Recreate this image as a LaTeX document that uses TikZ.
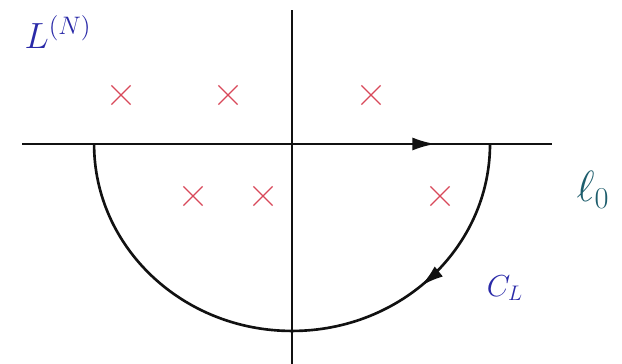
\documentclass[tikz,border=0pt]{standalone}
\usepackage{amsmath, amssymb}
\usetikzlibrary{positioning, calc, arrows.meta, shapes.misc, decorations.markings}
\definecolor{Ink}{HTML}{111111}
\definecolor{Pole}{HTML}{D8485A}
\definecolor{Label}{HTML}{2A2AA8}
\definecolor{Teal}{HTML}{1D5D6C}
\tikzset{
    axis/.style={line width=1.5pt, color=Ink},
    contour/.style={line width=1.5pt, color=Ink},
    midtip/.style={postaction={decorate}, decoration={markings,
        mark=at position #1 with {\arrow{Latex[length=4.6mm, width=2.6mm]}}}},
    crossmark/.style={cross out, draw=Pole, line width=0.7pt, minimum size=0.36cm, inner sep=0pt},
    lbl/.style={text=Label, font=\fontsize{20}{24}\selectfont},
}
\begin{document}
\begin{tikzpicture}[x=0.02cm, y=0.02cm]
    \useasboundingbox (0,0) rectangle (622,364);

    % Definizioni
    \coordinate (O) at (292,220);
    \coordinate (W) at (22,220);
    \coordinate (E) at (552,220);
    \coordinate (N) at (292,354);
    \coordinate (S) at (292,0);
    \coordinate (R) at (490,220);

    % Assi
    \draw[axis, midtip=0.78] (W) -- (E);
    \draw[axis] (S) -- (N);

    % Contorno C_L (semi-ellisse)
    \draw[contour, midtip=0.27] (R) arc[start angle=0, end angle=-180, x radius=3.96cm, y radius=3.74cm];

    % Poli
    \foreach \px/\py [count=\i] in {121/269, 228/269, 371/269, 193/168, 263/168, 440/168}
        \node[crossmark] (p\i) at (\px,\py) {};

    % Etichette
    \node[lbl] (LN) at (58,332) {$L^{(N)}$};
    \node[lbl, font=\fontsize{18}{22}\selectfont] (CL) at (505,76) {$C_L$};
    \node[text=Teal, font=\fontsize{25}{30}\selectfont] (l0) at (593,174) {$\ell_0$};
\end{tikzpicture}
\end{document}
